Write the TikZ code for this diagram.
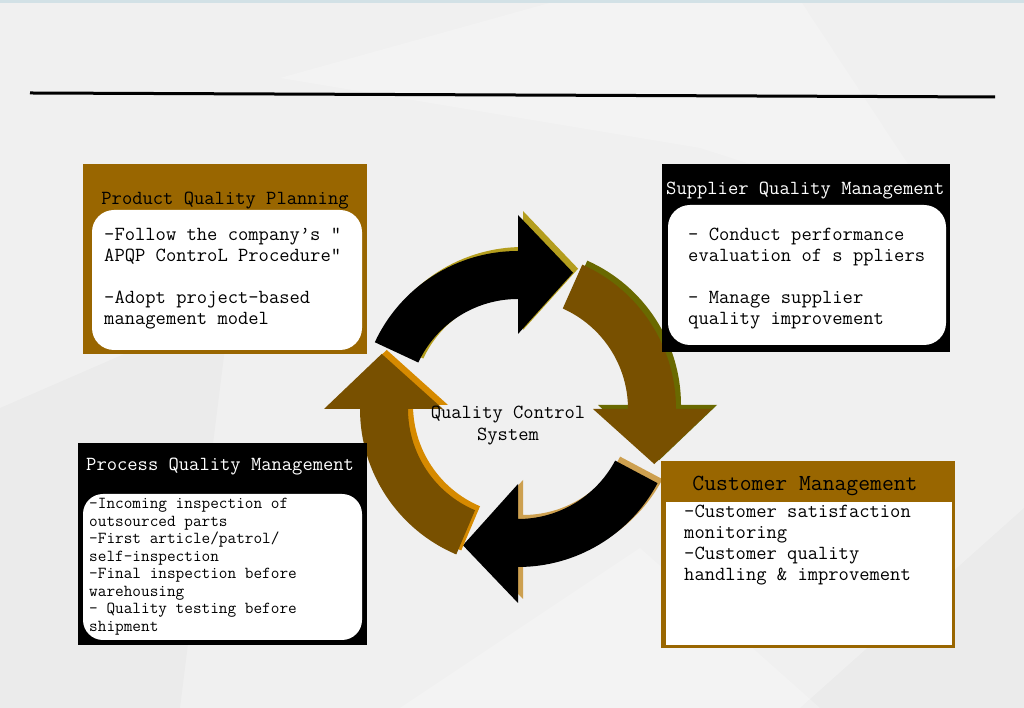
\documentclass[tikz,border=0pt]{standalone}
\usepackage{fontspec}
\definecolor{bgc}{RGB}{240,240,240}
\definecolor{boxbrown}{RGB}{153,102,0}
\definecolor{arrbrown}{RGB}{120,80,0}
\definecolor{sidegold}{RGB}{180,158,30}
\definecolor{sideolive}{RGB}{105,105,0}
\definecolor{sidetan}{RGB}{205,160,80}
\definecolor{sideorange}{RGB}{214,138,0}
\definecolor{topline}{RGB}{210,225,230}
\newcommand\qcarrow[4]{%
  \fill[#4,shift={(5,4)}] (#1:158) arc[start angle=#1,end angle=#2,radius=158] -- (#2:194) -- ({#2-22}:147) -- (#2:75) -- (#2:110) arc[start angle=#2,end angle=#1,radius=110] -- cycle;
  \fill[#3] (#1:158) arc[start angle=#1,end angle=#2,radius=158] -- (#2:194) -- ({#2-22}:147) -- (#2:75) -- (#2:110) arc[start angle=#2,end angle=#1,radius=110] -- cycle;
}
\newcommand\qcfont[2]{\ttfamily\addfontfeatures{FakeBold=0.9}\fontsize{#1}{#2}\selectfont}
\tikzset{
  ttl/.style={font=\qcfont{20}{21}, inner sep=0pt},
  body/.style={font=\qcfont{20}{21}, align=left, anchor=north west, inner sep=0pt},
  smallbody/.style={font=\qcfont{16.8}{17.5}, align=left, anchor=north west, inner sep=0pt}
}
\begin{document}
\begin{tikzpicture}[x=1pt,y=1pt]
\useasboundingbox (0,0) rectangle (1024,708);
% background
\fill[bgc] (0,0) rectangle (1024,708);
\fill[white,opacity=0.2] (280,630) -- (560,708) -- (800,708) -- (950,480) -- (700,560) -- cycle;
\fill[black,opacity=0.02] (0,300) -- (230,400) -- (180,0) -- (0,0) -- cycle;
\fill[black,opacity=0.02] (800,0) -- (1024,200) -- (1024,0) -- cycle;
\fill[white,opacity=0.2] (400,0) -- (640,160) -- (820,0) -- cycle;
\fill[topline] (0,705) rectangle (1024,708);
% title rule
\draw[line width=3pt,black] (30,615) -- (995,611);
% cycle arrows
\begin{scope}[shift={(518,299)}]
  \qcarrow{155}{90}{black}{sidegold}
  \qcarrow{66}{0}{arrbrown}{sideolive}
  \qcarrow{-28}{-90}{black}{sidetan}
  \qcarrow{247}{180}{arrbrown}{sideorange}
\end{scope}
\node[font=\qcfont{20}{22}, align=center, inner sep=0pt] (center) at (508,282) {Quality Control\\System};
% Product Quality Planning
\fill[boxbrown] (83,354) rectangle (367,544);
\node[ttl,black] (pqpT) at (225,507) {Product Quality Planning};
\fill[white, rounded corners=22pt] (92,358) rectangle (362,498);
\node[body] (pqpB) at (104,480) {-Follow the company’s ”\\APQP ControL Procedure”\\[21pt]-Adopt project-based\\management model};
% Supplier Quality Management
\fill[black] (662,356) rectangle (950,544);
\node[ttl,white,anchor=west] (sqmT) at (666,517) {Supplier Quality Management};
\fill[white, rounded corners=22pt] (668,363) rectangle (946,503);
\node[body] (sqmB) at (688,480) {- Conduct performance\\evaluation of s ppliers\\[21pt]- Manage supplier\\quality improvement};
% Process Quality Management
\fill[black] (78,63) rectangle (367,265);
\node[ttl,white,anchor=west] (pcqT) at (86,241) {Process Quality Management};
\fill[white, rounded corners=20pt] (83,68) rectangle (362,214);
\node[smallbody] (pcqB) at (89,210) {-Incoming inspection of\\outsourced parts\\-First article/patrol/\\self-inspection\\-Final inspection before\\warehousing\\- Quality testing before\\shipment};
% Customer Management
\fill[boxbrown] (661,60) rectangle (955,247);
\fill[white] (666,63) rectangle (952,206);
\node[font=\qcfont{23}{24}, inner sep=0pt] (cmT) at (805,222) {Customer Management};
\node[body] (cmB) at (684,203) {-Customer satisfaction\\monitoring\\-Customer quality\\handling \& improvement};
\end{tikzpicture}
\end{document}
